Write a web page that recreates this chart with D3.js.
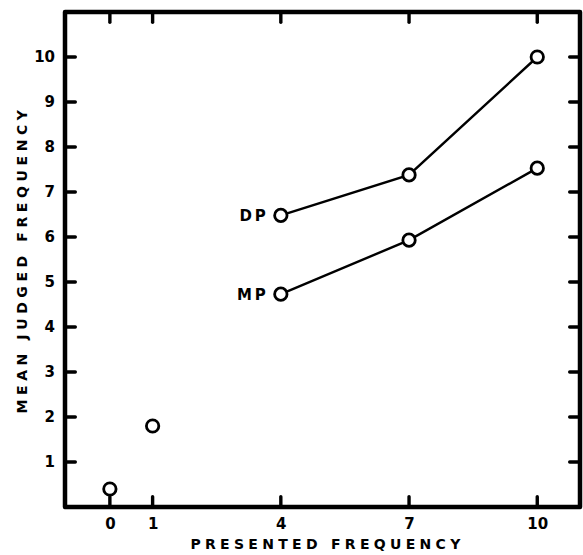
<!DOCTYPE html>
<html>
<head>
<meta charset="utf-8">
<script src="https://cdn.jsdelivr.net/npm/d3@7"></script>
<style>
  body { margin: 0; background: #fff; }
  svg { display: block; }
  text { font-family: "DejaVu Sans", sans-serif; font-weight: bold; fill: #000; }
</style>
</head>
<body>
<script>
// Data
const xTicks = [0, 1, 4, 7, 10];
const yTicks = [1, 2, 3, 4, 5, 6, 7, 8, 9, 10];
const singleX = [0, 1];
const singleY = [0.4, 1.8];
const seriesX = [4, 7, 10];
const dpValues = [6.48, 7.38, 10.0];
const mpValues = [4.73, 5.93, 7.53];
const seriesNames = ["DP", "MP"];
const xTitle = "PRESENTED FREQUENCY";
const yTitle = "MEAN JUDGED FREQUENCY";

const W = 583, H = 555;
const margin = { left: 65, top: 12, right: 3, bottom: 48 };
const iw = W - margin.left - margin.right;
const ih = H - margin.top - margin.bottom;

const x = d3.scaleLinear().domain([-1.05, 11]).range([0, iw]);
const y = d3.scaleLinear().domain([0, 11]).range([ih, 0]);

const svg = d3.select("body").append("svg").attr("width", W).attr("height", H);
const g = svg.append("g").attr("transform", `translate(${margin.left},${margin.top})`);

const tickLen = 12;
const tickW = 3.4;
const fs = 15;

// Frame (filled rects for each side)
const frameW = 4.5;
g.append("path").attr("d", `M0,0H${iw}V${ih}H0Z`)
  .attr("fill", "none").attr("stroke", "#000").attr("stroke-width", frameW)
  .attr("stroke-linejoin", "round");

// Axis labels via d3 axes
const xAxisG = g.append("g").attr("transform", `translate(0,${ih})`)
  .call(d3.axisBottom(x).tickValues(xTicks).tickSize(0).tickPadding(11).tickFormat(d3.format("d")));
const yAxisG = g.append("g")
  .call(d3.axisLeft(y).tickValues(yTicks).tickSize(0).tickPadding(10).tickFormat(d3.format("d")));
[xAxisG, yAxisG].forEach(a => {
  a.select(".domain").remove();
  a.selectAll(".tick line").remove();
  a.selectAll(".tick text").attr("font-size", fs).attr("font-family", "DejaVu Sans, sans-serif")
    .attr("font-weight", "bold").attr("fill", "#000");
});

// Inward tick marks as filled rectangles
const tickG = g.append("g").attr("fill", "#000");
tickG.selectAll("rect.tb").data(xTicks).enter().append("rect").attr("class", "tb")
  .attr("x", d => x(d) - tickW / 2).attr("y", ih - tickLen).attr("width", tickW).attr("height", tickLen)
  .attr("rx", tickW / 2).style("fill", "#000");
tickG.selectAll("rect.tt").data(xTicks).enter().append("rect").attr("class", "tt")
  .attr("x", d => x(d) - tickW / 2).attr("y", 0).attr("width", tickW).attr("height", tickLen)
  .attr("rx", tickW / 2).style("fill", "#000");
tickG.selectAll("rect.tl").data(yTicks).enter().append("rect").attr("class", "tl")
  .attr("x", 0).attr("y", d => y(d) - tickW / 2).attr("width", tickLen).attr("height", tickW)
  .attr("rx", tickW / 2).style("fill", "#000");
tickG.selectAll("rect.tr").data(yTicks).enter().append("rect").attr("class", "tr")
  .attr("x", iw - tickLen).attr("y", d => y(d) - tickW / 2).attr("width", tickLen).attr("height", tickW)
  .attr("rx", tickW / 2).style("fill", "#000");

// Lines
const line = d3.line().x(d => x(d[0])).y(d => y(d[1]));
const series = [dpValues, mpValues].map(vals => seriesX.map((v, i) => [v, vals[i]]));
series.forEach(s => {
  g.append("path").datum(s).attr("d", line).attr("fill", "none")
    .attr("stroke", "#000").attr("stroke-width", 2.4);
});

// Points
const allPts = singleX.map((v, i) => [v, singleY[i]]).concat(series[0], series[1]);
g.selectAll("circle.pt").data(allPts).enter().append("circle")
  .attr("class", "pt")
  .attr("cx", d => x(d[0])).attr("cy", d => y(d[1])).attr("r", 6.2)
  .attr("fill", "#fff").attr("stroke", "#000").attr("stroke-width", 2.8);

// Series labels
series.forEach((s, i) => {
  g.append("text").attr("x", x(s[0][0]) - 12).attr("y", y(s[0][1]))
    .attr("dy", "0.36em").attr("text-anchor", "end")
    .attr("font-size", fs).attr("letter-spacing", 3).text(seriesNames[i]);
});

// Axis titles
svg.append("text").attr("x", margin.left + iw / 2 + 5).attr("y", 549)
  .attr("text-anchor", "middle").attr("font-size", 14).attr("letter-spacing", 4.3)
  .text(xTitle);
svg.append("text").attr("transform", `translate(27,${margin.top + ih / 2}) rotate(-90)`)
  .attr("text-anchor", "middle").attr("font-size", 14).attr("letter-spacing", 4.6)
  .text(yTitle);
</script>
</body>
</html>
